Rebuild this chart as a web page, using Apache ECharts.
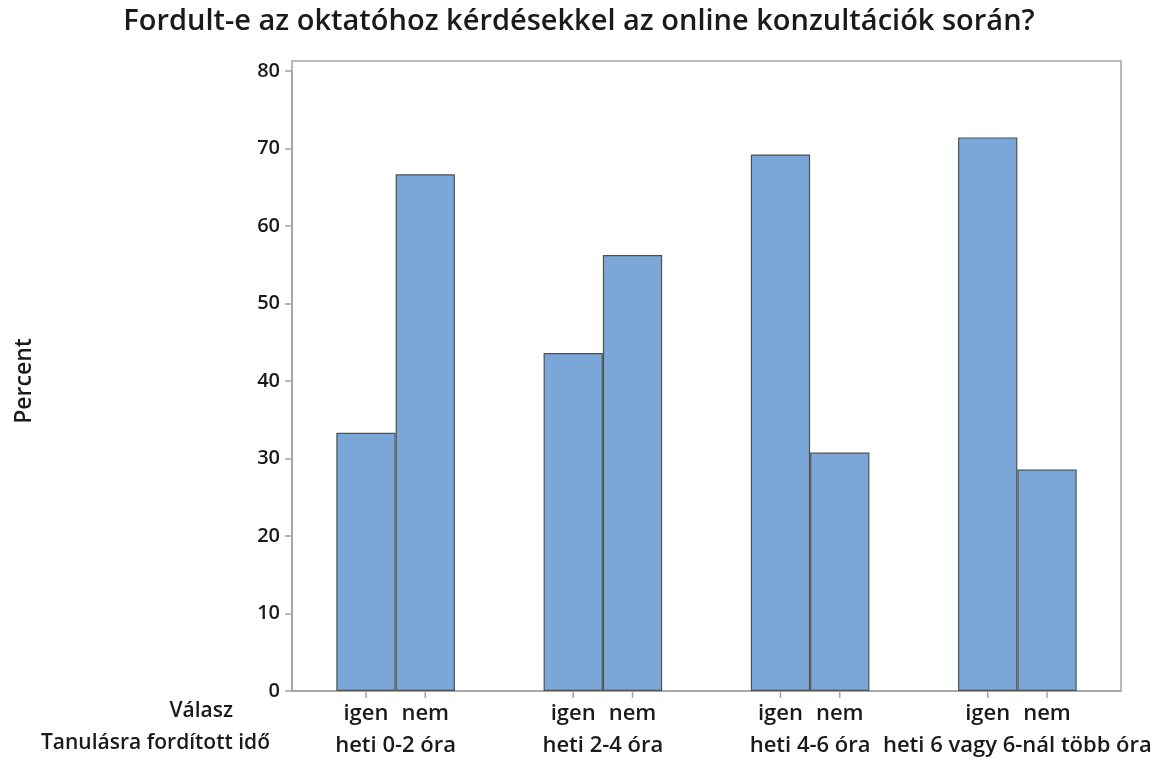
<!DOCTYPE html>
<html>
<head>
<meta charset="utf-8">
<script src="https://cdn.jsdelivr.net/npm/echarts@6/dist/echarts.min.js"></script>
<style>
  html, body { margin: 0; padding: 0; background: #fff; }
  #chart { width: 1158px; height: 760px; }
</style>
</head>
<body>
<div id="chart"></div>
<script>
// 資料
const categories = ["heti 0-2 óra", "heti 2-4 óra", "heti 4-6 óra", "heti 6 vagy 6-nál több óra"];
const answers = ["igen", "nem"];
const igenValues = [33.33, 43.6, 69.23, 71.43];
const nemValues = [66.67, 56.25, 30.77, 28.57];
const yTicks = [0, 10, 20, 30, 40, 50, 60, 70, 80];

const FONT = "'Open Sans', 'Noto Sans', sans-serif";
const BAR_W = 59.3;
const barColor = "#7ba7d8";
const frameColor = "#a3a3a3";
const textColor = "#1a1a1a";

const chart = echarts.init(document.getElementById("chart"));

const option = {
  backgroundColor: "#fff",
  animation: false,
  textStyle: { fontFamily: FONT, color: textColor },
  title: {
    text: "Fordult-e az oktatóhoz kérdésekkel az online konzultációk során?",
    left: "center",
    top: 2,
    textStyle: { fontFamily: FONT, fontSize: 29, fontWeight: 600, color: textColor }
  },
  grid: { left: 292, right: 37, top: 71, bottom: 69, outerBoundsMode: "none" },
  xAxis: {
    type: "category",
    data: categories,
    boundaryGap: true,
    axisLine: { lineStyle: { color: frameColor, width: 1.5 } },
    axisTick: { show: false },
    axisLabel: {
      interval: 0,
      margin: 7,
      hideOverlap: false,
      formatter: (v) => `{a|${answers[0]}}{a|${answers[1]}}\n{b|${v}}`,
      rich: {
        a: { width: BAR_W, align: "center", fontSize: 22, fontWeight: 600, lineHeight: 32, color: textColor, fontFamily: FONT },
        b: { align: "center", fontSize: 22, fontWeight: 600, lineHeight: 32, color: textColor, fontFamily: FONT }
      }
    }
  },
  yAxis: {
    type: "value",
    min: yTicks[0],
    max: yTicks[yTicks.length - 1],
    interval: 10,
    name: "Percent",
    nameLocation: "middle",
    nameRotate: 90,
    nameGap: 256,
    nameTextStyle: { fontSize: 23, fontWeight: 600, color: textColor, fontFamily: FONT },
    axisLine: { show: true, lineStyle: { color: frameColor, width: 1.5 } },
    axisTick: { show: true, length: 7, lineStyle: { color: frameColor, width: 1.5 } },
    axisLabel: { fontSize: 20, fontWeight: 600, color: textColor, margin: 12, fontFamily: FONT },
    splitLine: { show: false }
  },
  series: [
    {
      name: answers[0],
      type: "bar",
      data: igenValues,
      barWidth: BAR_W,
      barGap: "0%",
      itemStyle: { color: barColor, borderColor: "#505050", borderWidth: 1.2 }
    },
    {
      name: answers[1],
      type: "bar",
      data: nemValues,
      barWidth: BAR_W,
      barGap: "0%",
      itemStyle: { color: barColor, borderColor: "#505050", borderWidth: 1.2 }
    },
    {
      // 每根長條中心下方的小刻度
      type: "custom",
      silent: true,
      clip: false,
      data: categories.map((c, i) => [i, 0]),
      renderItem: (params, api) => {
        const p = api.coord([api.value(0), 0]);
        const half = BAR_W / 2;
        return {
          type: "group",
          children: [-half, half].map(dx => ({
            type: "line",
            shape: { x1: p[0] + dx, y1: p[1], x2: p[0] + dx, y2: p[1] + 7 },
            style: { stroke: frameColor, lineWidth: 1.5 }
          }))
        };
      }
    }
  ],
  graphic: [
    {
      type: "rect",
      z: 0,
      silent: true,
      shape: { x: 292, y: 61, width: 829, height: 630 },
      style: { fill: null, stroke: frameColor, lineWidth: 1.5 }
    },
    {
      type: "text",
      right: 1158 - 233,
      top: 701,
      style: { text: "Válasz", font: `600 21px ${FONT}`, fill: textColor }
    },
    {
      type: "text",
      right: 1158 - 270,
      top: 733,
      style: { text: "Tanulásra fordított idő", font: `600 21px ${FONT}`, fill: textColor }
    }
  ]
};

chart.setOption(option);
</script>
</body>
</html>
